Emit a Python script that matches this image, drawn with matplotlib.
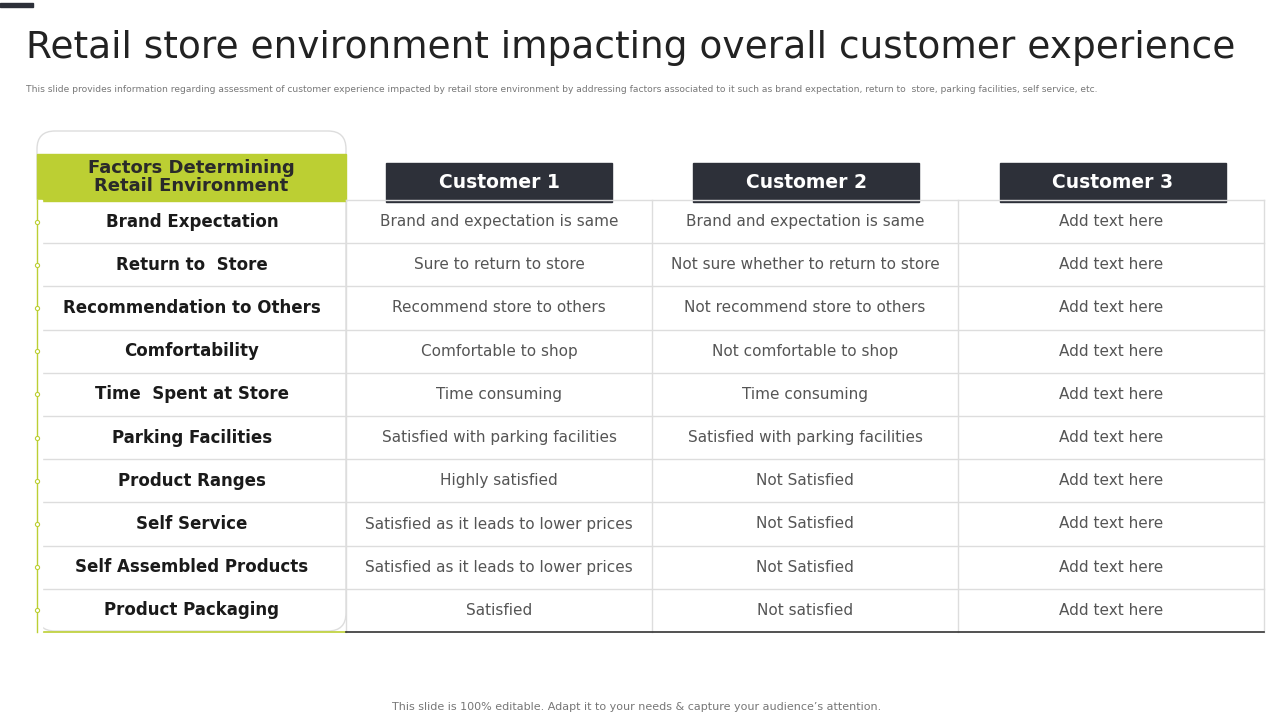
import matplotlib.pyplot as plt
from matplotlib.patches import Rectangle, FancyBboxPatch

# --------------------------------------------------
# Table content
# --------------------------------------------------
factors = [
    "Brand Expectation", "Return to  Store", "Recommendation to Others",
    "Comfortability", "Time  Spent at Store", "Parking Facilities",
    "Product Ranges", "Self Service", "Self Assembled Products",
    "Product Packaging",
]
customers = ["Customer 1", "Customer 2", "Customer 3"]
customer1 = [
    "Brand and expectation is same", "Sure to return to store",
    "Recommend store to others", "Comfortable to shop", "Time consuming",
    "Satisfied with parking facilities", "Highly satisfied",
    "Satisfied as it leads to lower prices",
    "Satisfied as it leads to lower prices", "Satisfied",
]
customer2 = [
    "Brand and expectation is same", "Not sure whether to return to store",
    "Not recommend store to others", "Not comfortable to shop",
    "Time consuming", "Satisfied with parking facilities", "Not Satisfied",
    "Not Satisfied", "Not Satisfied", "Not satisfied",
]
customer3 = ["Add text here"] * 10

GREEN = "#bccf33"
DARK = "#2d3039"

fig = plt.figure(figsize=(12.8, 7.2), dpi=100)
ax = fig.add_axes([0, 0, 1, 1])
ax.set_xlim(0, 1280)
ax.set_ylim(720, 0)
ax.axis("off")

# top-left accent bar
ax.add_patch(Rectangle((0, 3), 33, 4, color=DARK))

ax.text(26, 48, "Retail store environment impacting overall customer experience",
        fontsize=27, color="#222222", va="center", ha="left")
ax.text(26, 89,
        "This slide provides information regarding assessment of customer experience impacted by retail store "
        "environment by addressing factors associated to it such as brand expectation, return to  store, "
        "parking facilities, self service, etc.",
        fontsize=6.6, color="#777777", va="center", ha="left")

# rounded frame for the factor column
ax.add_patch(FancyBboxPatch((37, 131), 309, 500,
                            boxstyle="round,pad=0,rounding_size=18",
                            fc="white", ec="#dddddd", lw=1))
ax.add_patch(Rectangle((37, 154), 309, 47, color=GREEN))
ax.text(191, 177, "Factors Determining\nRetail Environment", fontsize=13,
        fontweight="bold", color="#2a2a2a", ha="center", va="center",
        linespacing=1.0)

col_edges = [346, 652, 958, 1264]
header_x = [386, 693, 1000]
for x, name in zip(header_x, customers):
    ax.add_patch(Rectangle((x, 163), 226, 39, color=DARK))
    ax.text(x + 113, 183, name, fontsize=13.5, fontweight="bold",
            color="white", ha="center", va="center")

top = 200
row_h = 43.2
n = len(factors)
bottom = top + n * row_h

# grid lines
for i in range(1, n):
    y = top + i * row_h
    ax.plot([40, 1264], [y, y], color="#dddddd", lw=1)
ax.plot([346, 1264], [top, top], color="#dddddd", lw=1)
for x in col_edges:
    ax.plot([x, x], [top, bottom], color="#dddddd", lw=1)
ax.plot([37, 346], [bottom, bottom], color=GREEN, lw=1.2)
ax.plot([346, 1264], [bottom, bottom], color="#333333", lw=1.2)

# green left line with small markers
ax.add_patch(Rectangle((34, top), 8, n * row_h, color="white", zorder=2))
ax.plot([37, 37], [top, bottom], color=GREEN, lw=1, zorder=3)

for i in range(n):
    yc = top + (i + 0.5) * row_h
    ax.plot(37, yc, marker="o", ms=3, mfc="white", mec=GREEN, mew=0.8, zorder=4)
    ax.text(192, yc, factors[i], fontsize=12, fontweight="bold",
            color="#1a1a1a", ha="center", va="center")
    for j, vals in enumerate([customer1, customer2, customer3]):
        xc = (col_edges[j] + col_edges[j + 1]) / 2
        ax.text(xc, yc, vals[i], fontsize=11, color="#555555",
                ha="center", va="center")

ax.text(637, 707, "This slide is 100% editable. Adapt it to your needs & capture your audience\u2019s attention.",
        fontsize=8, color="#777777", ha="center", va="center")

fig.savefig("out.png", dpi=100)
